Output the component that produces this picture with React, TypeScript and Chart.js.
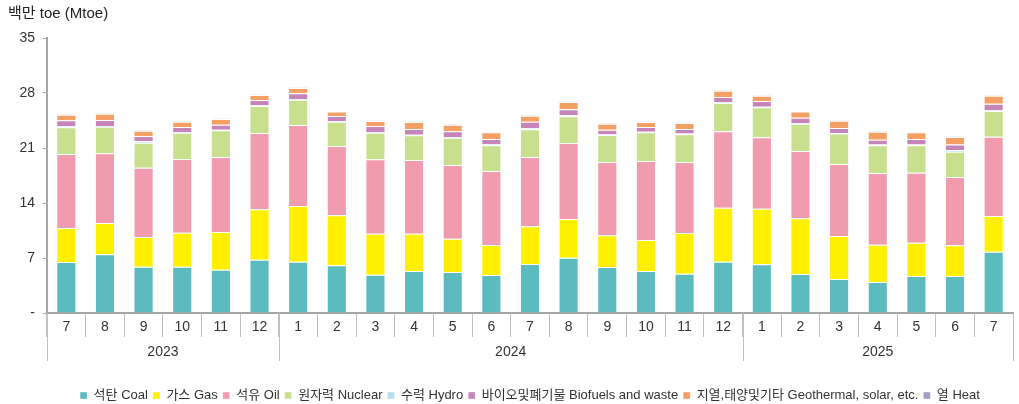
import React, { useEffect, useRef } from "react";
import { Chart, registerables } from "chart.js";

Chart.register(...registerables);

const months = ["7","8","9","10","11","12","1","2","3","4","5","6","7","8","9","10","11","12","1","2","3","4","5","6","7"];
const years = [
  { label: "2023", from: 0, to: 5 },
  { label: "2024", from: 6, to: 17 },
  { label: "2025", from: 18, to: 24 },
];
const yTicks = [0, 7, 14, 21, 28, 35];

const coal = [6.49,7.47,5.90,5.90,5.52,6.79,6.53,6.07,4.88,5.35,5.22,4.84,6.24,7.04,5.85,5.35,5.01,6.53,6.19,4.96,4.33,3.95,4.71,4.71,7.81];
const gas = [4.33,3.99,3.77,4.32,4.79,6.40,7.09,6.36,5.22,4.75,4.24,3.82,4.79,4.92,4.04,3.94,5.17,6.88,7.09,7.09,5.47,4.75,4.24,3.90,4.54];
const oil = [9.42,8.86,8.83,9.38,9.55,9.72,10.31,8.83,9.46,9.37,9.38,9.41,8.83,9.68,9.33,10.06,9.04,9.71,9.08,8.57,9.16,9.12,8.91,8.70,10.09];
const nuclear = [3.39,3.40,3.18,3.35,3.39,3.44,3.22,3.09,3.39,3.14,3.48,3.27,3.52,3.39,3.44,3.65,3.52,3.61,3.82,3.48,3.87,3.52,3.48,3.22,3.27];
const hydro = [0.13,0.08,0.17,0.09,0.08,0.08,0.09,0.09,0.09,0.09,0.08,0.13,0.17,0.13,0.08,0.08,0.09,0.08,0.08,0.08,0.08,0.09,0.09,0.17,0.09];
const bio = [0.76,0.77,0.68,0.63,0.64,0.68,0.72,0.63,0.76,0.72,0.72,0.68,0.80,0.76,0.59,0.59,0.59,0.68,0.72,0.68,0.64,0.63,0.72,0.73,0.84];
const geo = [0.72,0.80,0.68,0.68,0.72,0.64,0.68,0.56,0.64,0.89,0.85,0.85,0.77,0.94,0.77,0.64,0.76,0.81,0.68,0.77,0.93,1.02,0.85,0.97,1.02];
const heat = [0.05,0.05,0.05,0.05,0.05,0.05,0.05,0.05,0.05,0.05,0.05,0.05,0.05,0.05,0.05,0.05,0.05,0.05,0.05,0.05,0.05,0.05,0.05,0.05,0.05];

const seriesNames = [
  "석탄 Coal",
  "가스 Gas",
  "석유 Oil",
  "원자력 Nuclear",
  "수력 Hydro",
  "바이오및폐기물 Biofuels and waste",
  "지열,태양및기타 Geothermal, solar, etc.",
  "열 Heat",
];
const seriesData = [coal, gas, oil, nuclear, hydro, bio, geo, heat];
const seriesColors = ["#5BBBBF", "#FFEF00", "#F09BAE", "#C8DF8E", "#B5DDF3", "#C585B8", "#F4A064", "#A99BC9"];

const FONT = "'Liberation Sans', 'Noto Sans CJK KR', Arial, sans-serif";
const AXIS_GRAY = "#a6a6a6";

const yearRowPlugin = {
  id: "yearRow",
  afterDraw(chart: any) {
    const x = chart.scales.x;
    const ctx = chart.ctx;
    const top = x.top;
    const half = (x.getPixelForValue(1) - x.getPixelForValue(0)) / 2;
    ctx.save();
    ctx.strokeStyle = "#bfbfbf";
    ctx.lineWidth = 1;
    const bounds: number[] = [];
    years.forEach((y) => {
      bounds.push(x.getPixelForValue(y.from) - half);
    });
    bounds.push(x.getPixelForValue(years[years.length - 1].to) + half);
    bounds.forEach((bx) => {
      const px = Math.round(bx) + 0.5;
      ctx.beginPath();
      ctx.moveTo(px, top);
      ctx.lineTo(px, top + 48);
      ctx.stroke();
    });
    ctx.fillStyle = "#333";
    ctx.font = `14px ${FONT}`;
    ctx.textAlign = "center";
    ctx.textBaseline = "middle";
    years.forEach((y) => {
      const cx = (x.getPixelForValue(y.from) + x.getPixelForValue(y.to)) / 2;
      ctx.fillText(y.label, cx, top + 39);
    });
    ctx.restore();
  },
};

export default function App() {
  const ref = useRef<HTMLCanvasElement>(null);
  useEffect(() => {
    if (!ref.current) return;
    Chart.defaults.font.family = FONT;
    Chart.defaults.color = "#333";
    const chart = new Chart(ref.current, {
      type: "bar",
      data: {
        labels: months,
        datasets: seriesNames.map((name, i) => ({
          label: name,
          data: seriesData[i],
          backgroundColor: seriesColors[i],
          borderColor: "rgba(255,255,255,0.5)",
          borderWidth: { top: 1, bottom: 0, left: 1, right: 1 },
          borderSkipped: false,
          barPercentage: 0.52,
          categoryPercentage: 1,
        })),
      },
      options: {
        responsive: false,
        animation: false,
        layout: { padding: { left: 8, right: 6, top: 0, bottom: 0 } },
        plugins: {
          tooltip: { enabled: false },
          title: {
            display: true,
            text: "백만 toe (Mtoe)",
            align: "start",
            color: "#222",
            font: { size: 15, weight: "normal", family: FONT },
            padding: { top: 5, bottom: 15 },
          },
          legend: {
            position: "bottom",
            fullSize: false,
            maxHeight: 20,
            labels: {
              boxWidth: 7,
              boxHeight: 7,
              padding: 5,
              color: "#333",
              font: { size: 13, family: FONT },
            },
          },
        },
        scales: {
          x: {
            stacked: true,
            offset: true,
            grid: {
              offset: true,
              drawOnChartArea: false,
              tickLength: 24,
              color: "#bfbfbf",
              lineWidth: 1,
            },
            border: { display: true, color: AXIS_GRAY, width: 2 },
            ticks: {
              padding: -18,
              maxRotation: 0,
              autoSkip: false,
              color: "#333",
              font: { size: 14, family: FONT },
            },
            afterFit: (scale: any) => {
              scale.height = 71;
            },
          },
          y: {
            stacked: true,
            min: 0,
            max: 35,
            afterBuildTicks: (scale: any) => {
              scale.ticks = yTicks.map((v) => ({ value: v }));
            },
            grid: {
              drawOnChartArea: false,
              tickLength: 4,
              color: AXIS_GRAY,
              lineWidth: 1,
            },
            border: { display: true, color: AXIS_GRAY, width: 2 },
            ticks: {
              padding: 8,
              color: "#333",
              font: { size: 14, family: FONT },
              callback: (v: any) => (Number(v) === 0 ? "-" : String(v)),
            },
            afterFit: (scale: any) => {
              scale.width = 39;
            },
          },
        },
      },
      plugins: [yearRowPlugin],
    } as any);
    return () => chart.destroy();
  }, []);
  return (
    <div style={{ position: "fixed", left: 0, top: 0, width: 1019, height: 404, background: "#fff" }}>
      <canvas ref={ref} width={1019} height={404} style={{ display: "block" }} />
    </div>
  );
}
